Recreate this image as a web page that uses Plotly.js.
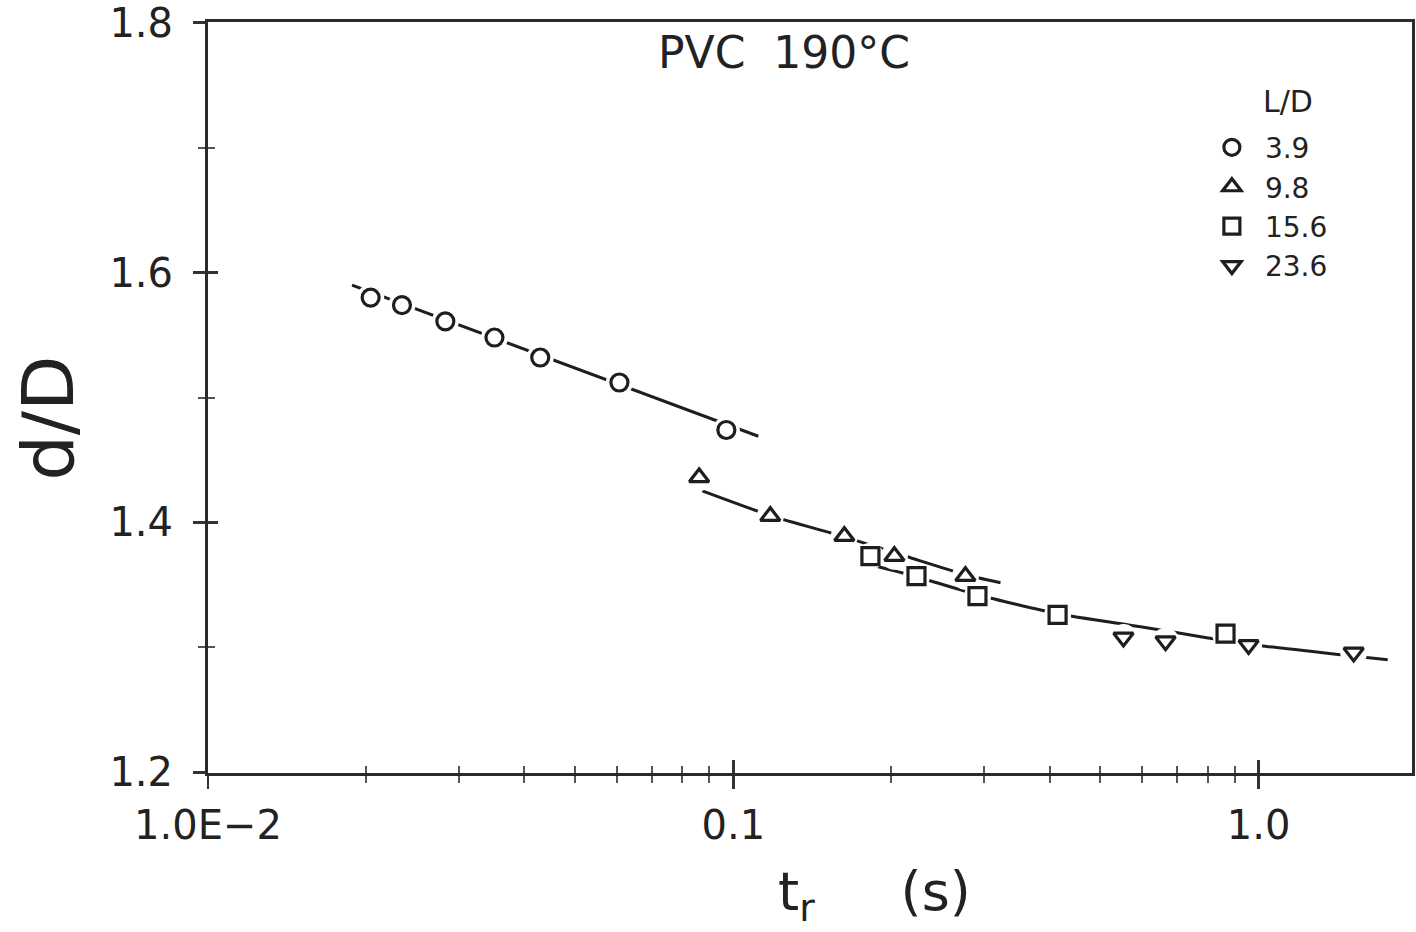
<!DOCTYPE html>
<html>
<head>
<meta charset="utf-8">
<script src="https://cdn.plot.ly/plotly-3.0.1.min.js"></script>
<style>html,body{margin:0;padding:0;background:#fff;}#chart{width:1416px;height:932px;}</style>
</head>
<body>
<div id="chart"></div>
<script>
// ---- data ----
const circleT = [0.0204, 0.0234, 0.0283, 0.0351, 0.0429, 0.0607, 0.0970];
const circleD = [1.580, 1.574, 1.561, 1.548, 1.532, 1.512, 1.474];

const triT = [0.0861, 0.1176, 0.1627, 0.2026, 0.2766];
const triD = [1.436, 1.405, 1.389, 1.373, 1.357];

const sqT = [0.1824, 0.2232, 0.2916, 0.4143, 0.865];
const sqD = [1.373, 1.357, 1.341, 1.326, 1.311];

const invT = [0.553, 0.665, 0.957, 1.517];
const invD = [1.308, 1.305, 1.302, 1.296];

// drawn curves through the data
const fit39T = [0.0188, 0.1116];
const fit39D = [1.590, 1.469];
const fit98T = [0.0873, 0.1181, 0.1627, 0.2145, 0.2766, 0.3226];
const fit98D = [1.4253, 1.4053, 1.3885, 1.3726, 1.3582, 1.3518];
const fit156T = [0.1761, 0.2232, 0.2916, 0.4143, 0.5958, 0.796, 1.0088, 1.433, 1.761];
const fit156D = [1.3677, 1.3566, 1.3422, 1.327, 1.3166, 1.3078, 1.3014, 1.2942, 1.2902];

const seriesNames = ['3.9', '9.8', '15.6', '23.6'];
const legendTitle = 'L/D';
const xTickVals = [0.01, 0.1, 1];
const xTickText = ['1.0E\u22122', '0.1', '1.0'];
const xMinorVals = [0.02,0.03,0.04,0.05,0.06,0.07,0.08,0.09,0.2,0.3,0.4,0.5,0.6,0.7,0.8,0.9];
const yTickVals = [1.2, 1.4, 1.6, 1.8];
const yTickText = ['1.2', '1.4', '1.6', '1.8'];
const yMinorVals = [1.3, 1.5, 1.7];

// ---- styling ----
const INK = '#1e1e1e';
const FONT = 'DejaVu Sans, Liberation Sans, sans-serif';
const MS = 17;
const HALO = 27;

const sets = [
  {t: circleT, d: circleD, sym: 'circle-open', name: seriesNames[0]},
  {t: triT, d: triD, sym: 'triangle-up-open', name: seriesNames[1]},
  {t: sqT, d: sqD, sym: 'square-open', name: seriesNames[2]},
  {t: invT, d: invD, sym: 'triangle-down-open', name: seriesNames[3]}
];
const fits = [[fit39T, fit39D], [fit98T, fit98D], [fit156T, fit156D]];

const traces = [];
fits.forEach(f => traces.push({
  x: f[0], y: f[1], type: 'scatter', mode: 'lines',
  line: {color: INK, width: 3, shape: 'spline', smoothing: 0.6},
  showlegend: false, hoverinfo: 'skip', xaxis: 'x', yaxis: 'y'
}));
sets.forEach(s => traces.push({
  x: s.t, y: s.d, type: 'scatter', mode: 'markers',
  marker: {symbol: 'circle', size: HALO, color: '#ffffff', line: {width: 0}},
  showlegend: false, hoverinfo: 'skip', xaxis: 'x2', yaxis: 'y2'
}));
sets.forEach(s => traces.push({
  x: s.t, y: s.d, type: 'scatter', mode: 'markers', name: s.name,
  marker: {symbol: s.sym, size: MS, color: INK, line: {color: INK, width: 3.2}},
  xaxis: 'x2', yaxis: 'y2'
}));

const xr = [-2, 0.292];
const yr = [1.1995, 1.8005];
const tickfont = {family: FONT, size: 40, color: '#222'};

const layout = {
  width: 1416, height: 932,
  margin: {l: 208, r: 4, t: 22, b: 159},
  paper_bgcolor: '#fff', plot_bgcolor: '#fff',
  showlegend: true,
  font: {family: FONT, color: '#222'},
  xaxis: {
    type: 'log', range: xr, tickmode: 'array', tickvals: xTickVals, ticktext: xTickText,
    ticks: 'outside', ticklen: 13, tickwidth: 2.5, tickcolor: '#333',
    showline: true, linewidth: 3, linecolor: '#2a2a2a', mirror: true,
    showgrid: false, zeroline: false, tickfont: tickfont, ticklabelstandoff: 2,
    ticklabeloverflow: 'allow',
    minor: {tickmode: 'array', tickvals: xMinorVals, ticks: 'outside', ticklen: 7, tickwidth: 2, tickcolor: '#555', showgrid: false}
  },
  yaxis: {
    range: yr, tickmode: 'array', tickvals: yTickVals, ticktext: yTickText,
    ticks: 'outside', ticklen: 12, tickwidth: 2.5, tickcolor: '#333',
    showline: true, linewidth: 3, linecolor: '#2a2a2a', mirror: true,
    showgrid: false, zeroline: false, tickfont: tickfont, ticklabelstandoff: 12,
    ticklabeloverflow: 'allow',
    minor: {tickmode: 'array', tickvals: yMinorVals, ticks: 'outside', ticklen: 7, tickwidth: 2, tickcolor: '#555', showgrid: false}
  },
  xaxis2: {
    type: 'log', range: xr, overlaying: 'x', anchor: 'y2', side: 'bottom',
    tickmode: 'array', tickvals: xTickVals, ticks: 'inside', ticklen: 13, tickwidth: 2.5, tickcolor: '#333',
    showticklabels: false, showline: false, showgrid: false, zeroline: false,
    minor: {tickmode: 'array', tickvals: xMinorVals, ticks: 'inside', ticklen: 7, tickwidth: 2, tickcolor: '#555', showgrid: false}
  },
  yaxis2: {
    range: yr, overlaying: 'y', anchor: 'x2', side: 'left',
    tickmode: 'array', tickvals: yTickVals, ticks: 'inside', ticklen: 10, tickwidth: 2.5, tickcolor: '#333',
    showticklabels: false, showline: false, showgrid: false, zeroline: false,
    minor: {tickmode: 'array', tickvals: yMinorVals, ticks: 'inside', ticklen: 7, tickwidth: 2, tickcolor: '#555', showgrid: false}
  },
  legend: {
    x: 0.823, y: 0.866, xanchor: 'left', yanchor: 'top',
    bgcolor: 'rgba(0,0,0,0)', borderwidth: 0,
    font: {family: FONT, size: 28, color: '#222'},
    itemsizing: 'trace', itemwidth: 56, tracegroupgap: 0
  },
  annotations: [
    {text: 'PVC  190°C', xref: 'paper', yref: 'paper', x: 0.478, y: 0.96,
     xanchor: 'center', yanchor: 'middle', showarrow: false,
     font: {family: FONT, size: 44, color: '#222'}},
    {text: legendTitle, xref: 'paper', yref: 'paper', x: 0.897, y: 0.894,
     xanchor: 'center', yanchor: 'middle', showarrow: false,
     font: {family: FONT, size: 30, color: '#222'}},
    {text: 't<sub>r</sub>     (s)', xref: 'paper', yref: 'paper', x: 0.5536, y: -0.163,
     xanchor: 'center', yanchor: 'middle', showarrow: false,
     font: {family: FONT, size: 54, color: '#222'}},
    {text: 'd/D', xref: 'paper', yref: 'paper', x: -0.133, y: 0.4727, textangle: -90,
     xanchor: 'center', yanchor: 'middle', showarrow: false,
     font: {family: FONT, size: 72, color: '#222'}}
  ]
};

Plotly.newPlot('chart', traces, layout, {displayModeBar: false, staticPlot: true});
</script>
</body>
</html>
